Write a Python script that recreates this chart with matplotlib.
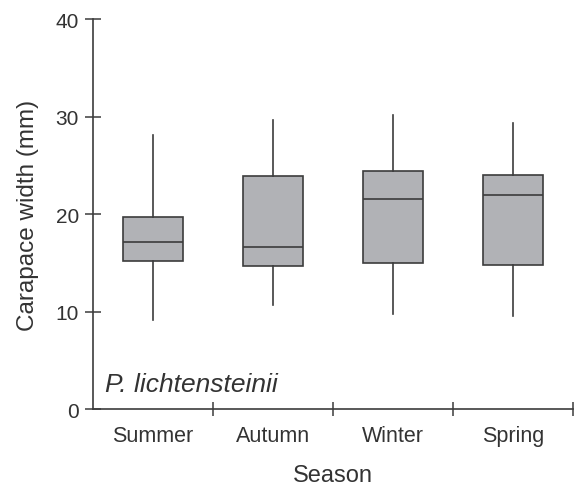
import matplotlib
matplotlib.use("Agg")
import matplotlib.pyplot as plt

plt.rcParams['font.family'] = ['Liberation Sans', 'DejaVu Sans']

seasons = ["Summer", "Autumn", "Winter", "Spring"]
whisker_low = [9.2, 10.7, 9.8, 9.6]
q1 = [15.2, 14.7, 15.0, 14.8]
median = [17.1, 16.6, 21.6, 22.0]
q3 = [19.7, 23.9, 24.4, 24.0]
whisker_high = [28.1, 29.7, 30.2, 29.3]
species = "P. lichtensteinii"

line_col = '#3c3c3c'
text_col = '#333333'
box_col = '#b1b2b6'

stats = []
for i, s in enumerate(seasons):
  stats.append({'label': s, 'whislo': whisker_low[i], 'q1': q1[i], 'med': median[i],
                'q3': q3[i], 'whishi': whisker_high[i], 'fliers': []})

fig = plt.figure(figsize=(5.77, 4.89), dpi=100)
ax = fig.add_axes([93/577, 1 - 410.3/489, 480/577, 390.3/489])

pos = list(range(1, len(seasons) + 1))
ax.bxp(stats, positions=pos, widths=0.5, patch_artist=True, showcaps=False,
       boxprops=dict(facecolor=box_col, edgecolor=line_col, linewidth=1.2),
       medianprops=dict(color=line_col, linewidth=1.2),
       whiskerprops=dict(color=line_col, linewidth=1.2))

ax.set_xlim(0.5, len(seasons) + 0.5)
ax.set_ylim(0, 40)
ax.set_yticks([0, 10, 20, 30, 40])
ax.set_xticks(pos)
ax.set_xticklabels(seasons)
ax.set_xticks([p + 0.5 for p in pos], minor=True)

ax.spines['top'].set_visible(False)
ax.spines['right'].set_visible(False)
for sp in ['left', 'bottom']:
  ax.spines[sp].set_color(line_col)
  ax.spines[sp].set_linewidth(1.2)

ax.tick_params(axis='x', which='major', length=0, pad=11, labelsize=15.5, labelcolor=text_col)
ax.tick_params(axis='x', which='minor', direction='inout', length=10, width=1.1, color=line_col)
ax.tick_params(axis='y', direction='inout', length=12, width=1.1, color=line_col,
               pad=4, labelsize=15, labelcolor=text_col)

ax.set_xlabel("Season", fontsize=17, color=text_col, labelpad=13)
ax.set_ylabel("Carapace width (mm)", fontsize=17.5, color=text_col, labelpad=12)

ax.text(0.6, 1.9, species, fontsize=19, style='italic', color=text_col)

fig.savefig("out.png", dpi=100)
